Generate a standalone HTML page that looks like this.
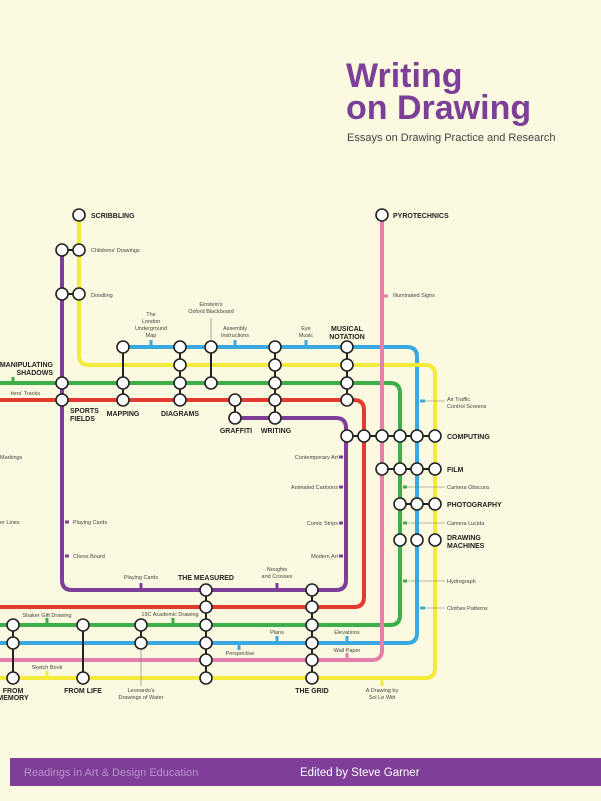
<!DOCTYPE html>
<html><head><meta charset="utf-8"><style>
html,body{margin:0;padding:0;background:#fbf9e0;}
svg{display:block}
text{font-family:"Liberation Sans",sans-serif;fill:#444;}
.s{font-size:5.5px}
.b{font-size:7px;font-weight:bold;fill:#222}
</style></head><body>
<svg width="601" height="801" viewBox="0 0 601 801" xmlns="http://www.w3.org/2000/svg">
<rect width="601" height="801" fill="#fbf9df"/>
<text x="346" y="87" style="font-size:34px;font-weight:bold;fill:#7b3f98">Writing</text>
<text x="346" y="119" style="font-size:34px;font-weight:bold;fill:#7b3f98">on Drawing</text>
<text x="347" y="141" style="font-size:11px;fill:#444">Essays on Drawing Practice and Research</text>

<g fill="none" stroke-width="4">
<path d="M0 643 H407 Q417 643 417 633 V357 Q417 347 407 347 H123" stroke="#3aa9e0"/>
<path d="M79 221 V355 Q79 365 89 365 H425 Q435 365 435 375 V668 Q435 678 425 678 H0" stroke="#f3ea3a"/>
<path d="M0 383 H390 Q400 383 400 393 V615 Q400 625 390 625 H0" stroke="#3cae4a"/>
<path d="M0 400 H354 Q364 400 364 410 V597 Q364 607 354 607 H0" stroke="#e23a2e"/>
<path d="M62 250 V580 Q62 590 72 590 H336 Q346 590 346 580 V428 Q346 418 336 418 H235" stroke="#7d3f98"/>
<path d="M382 216 V650 Q382 660 372 660 H0" stroke="#e57fae"/>
</g>
<g stroke-width="3">
<path d="M151 347 V340 M235 347 V340 M306 347 V340 M347 643 V636 M239 643 V650 M277 643 V636 M420 401 H425" stroke="#3aa9e0"/>
<path d="M420 608 H425" stroke="#3aa9e0"/>
<path d="M384 296 H388 M347 660 V653" stroke="#e57fae"/>
<path d="M403 487 H407 M403 523 H407 M403 581 H407 M13 383 V377 M47 625 V618 M173 625 V618" stroke="#3cae4a"/>
<path d="M47 678 V671 M382 678 V686" stroke="#f3ea3a"/>
<path d="M343 457 H339 M343 487 H339 M343 523 H339 M343 556 H339 M65 522 H69 M65 556 H69 M141 590 V583 M277 590 V583" stroke="#7d3f98"/>
</g>
<g stroke="#777" stroke-width="0.6">
<path d="M211 347 V318 M425 401 H445 M407 487 H445 M407 523 H445 M407 581 H445 M425 608 H445 M141 643 V686"/>
</g>
<g stroke="#222" stroke-width="2">
<path d="M123 347 V400 M180 347 V400 M211 347 V383 M275 347 V418 M347 347 V400 M235 400 V418 M347 436 H435 M382 469 H435 M400 504 H435 M206 590 V678 M312 590 V678 M13 625 V678 M83 625 V678 M141 625 V643 M62 250 H79 M62 294 H79"/>
</g>
<g fill="#fff" stroke="#222" stroke-width="1.6">
<circle cx="79" cy="215" r="6"/><circle cx="62" cy="250" r="6"/><circle cx="79" cy="250" r="6"/>
<circle cx="62" cy="294" r="6"/><circle cx="79" cy="294" r="6"/>
<circle cx="382" cy="215" r="6"/>
<circle cx="123" cy="347" r="6"/><circle cx="180" cy="347" r="6"/><circle cx="211" cy="347" r="6"/><circle cx="275" cy="347" r="6"/><circle cx="347" cy="347" r="6"/>
<circle cx="180" cy="365" r="6"/><circle cx="275" cy="365" r="6"/><circle cx="347" cy="365" r="6"/>
<circle cx="62" cy="383" r="6"/><circle cx="123" cy="383" r="6"/><circle cx="180" cy="383" r="6"/><circle cx="211" cy="383" r="6"/><circle cx="275" cy="383" r="6"/><circle cx="347" cy="383" r="6"/>
<circle cx="62" cy="400" r="6"/><circle cx="123" cy="400" r="6"/><circle cx="180" cy="400" r="6"/><circle cx="235" cy="400" r="6"/><circle cx="275" cy="400" r="6"/><circle cx="347" cy="400" r="6"/>
<circle cx="235" cy="418" r="6"/><circle cx="275" cy="418" r="6"/>
<circle cx="347" cy="436" r="6"/><circle cx="364" cy="436" r="6"/><circle cx="382" cy="436" r="6"/><circle cx="400" cy="436" r="6"/><circle cx="417" cy="436" r="6"/><circle cx="435" cy="436" r="6"/>
<circle cx="382" cy="469" r="6"/><circle cx="400" cy="469" r="6"/><circle cx="417" cy="469" r="6"/><circle cx="435" cy="469" r="6"/>
<circle cx="400" cy="504" r="6"/><circle cx="417" cy="504" r="6"/><circle cx="435" cy="504" r="6"/>
<circle cx="400" cy="540" r="6"/><circle cx="417" cy="540" r="6"/><circle cx="435" cy="540" r="6"/>
<circle cx="206" cy="590" r="6"/><circle cx="206" cy="607" r="6"/><circle cx="206" cy="625" r="6"/><circle cx="206" cy="643" r="6"/><circle cx="206" cy="660" r="6"/><circle cx="206" cy="678" r="6"/>
<circle cx="312" cy="590" r="6"/><circle cx="312" cy="607" r="6"/><circle cx="312" cy="625" r="6"/><circle cx="312" cy="643" r="6"/><circle cx="312" cy="660" r="6"/><circle cx="312" cy="678" r="6"/>
<circle cx="13" cy="625" r="6"/><circle cx="13" cy="643" r="6"/><circle cx="13" cy="678" r="6"/>
<circle cx="83" cy="625" r="6"/><circle cx="83" cy="678" r="6"/>
<circle cx="141" cy="625" r="6"/><circle cx="141" cy="643" r="6"/>
</g>
<text class="b" x="91" y="218">SCRIBBLING</text>
<text class="s" x="91" y="252">Childrens' Drawings</text>
<text class="s" x="91" y="297">Doodling</text>
<text class="b" x="393" y="218">PYROTECHNICS</text>
<text class="s" x="393" y="297">Illuminated Signs</text>
<g text-anchor="middle">
<text class="s" x="151" y="316">The</text><text class="s" x="151" y="323">London</text><text class="s" x="151" y="330">Underground</text><text class="s" x="151" y="337">Map</text>
<text class="s" x="211" y="306">Einstein's</text><text class="s" x="211" y="313">Oxford Blackboard</text>
<text class="s" x="235" y="330">Assembly</text><text class="s" x="235" y="337">Instructions</text>
<text class="s" x="306" y="330">Eye</text><text class="s" x="306" y="337">Music</text>
<text class="b" x="347" y="331">MUSICAL</text><text class="b" x="347" y="339">NOTATION</text>
<text class="b" x="123" y="416">MAPPING</text>
<text class="b" x="180" y="416">DIAGRAMS</text>
<text class="b" x="236" y="433">GRAFFITI</text>
<text class="b" x="276" y="433">WRITING</text>
<text class="s" x="141" y="579">Playing Cards</text>
<text class="s" x="277" y="571">Noughts</text><text class="s" x="277" y="578">and Crosses</text>
<text class="b" x="206" y="580">THE MEASURED</text>
<text class="s" x="47" y="617">Shaker Gift Drawing</text>
<text class="s" x="170" y="616">19C Academic Drawing</text>
<text class="s" x="277" y="634">Plans</text>
<text class="s" x="240" y="655">Perspective</text>
<text class="s" x="347" y="634">Elevations</text>
<text class="s" x="347" y="652">Wall Paper</text>
<text class="s" x="47" y="669">Sketch Book</text>
<text class="b" x="13" y="693">FROM</text><text class="b" x="13" y="700">MEMORY</text>
<text class="b" x="83" y="693">FROM LIFE</text>
<text class="s" x="141" y="692">Leonardo's</text><text class="s" x="141" y="699">Drawings of Water</text>
<text class="b" x="312" y="693">THE GRID</text>
<text class="s" x="382" y="692">A Drawing by</text><text class="s" x="382" y="699">Sol Le Witt</text>
</g>
<g text-anchor="end">
<text class="b" x="53" y="367">MANIPULATING</text><text class="b" x="53" y="375">SHADOWS</text>
<text class="s" x="40" y="395">tiers' Tracks</text>
<text class="s" x="338" y="459">Contemporary Art</text>
<text class="s" x="338" y="489">Animated Cartoons</text>
<text class="s" x="338" y="525">Comic Strips</text>
<text class="s" x="338" y="558">Modern Art</text>
</g>
<text class="s" x="0" y="459">Markings</text>
<text class="s" x="0" y="524">er Lines</text>
<text class="b" x="70" y="413">SPORTS</text><text class="b" x="70" y="421">FIELDS</text>
<text class="s" x="73" y="524">Playing Cards</text>
<text class="s" x="73" y="558">Chess Board</text>
<text class="s" x="447" y="401">Air Traffic</text><text class="s" x="447" y="408">Control Screens</text>
<text class="b" x="447" y="439">COMPUTING</text>
<text class="b" x="447" y="472">FILM</text>
<text class="s" x="447" y="489">Camera Obscura</text>
<text class="b" x="447" y="507">PHOTOGRAPHY</text>
<text class="s" x="447" y="525">Camera Lucida</text>
<text class="b" x="447" y="540">DRAWING</text><text class="b" x="447" y="548">MACHINES</text>
<text class="s" x="447" y="583">Hydrograph</text>
<text class="s" x="447" y="610">Clothes Patterns</text>

<rect x="10" y="758" width="591" height="28" fill="#7f3f98"/>
<text x="24" y="776" style="font-size:11px;fill:#b791cc">Readings in Art &amp; Design Education</text>
<text x="300" y="776" style="font-size:11.5px;fill:#fff">Edited by Steve Garner</text>
</svg>
</body></html>
